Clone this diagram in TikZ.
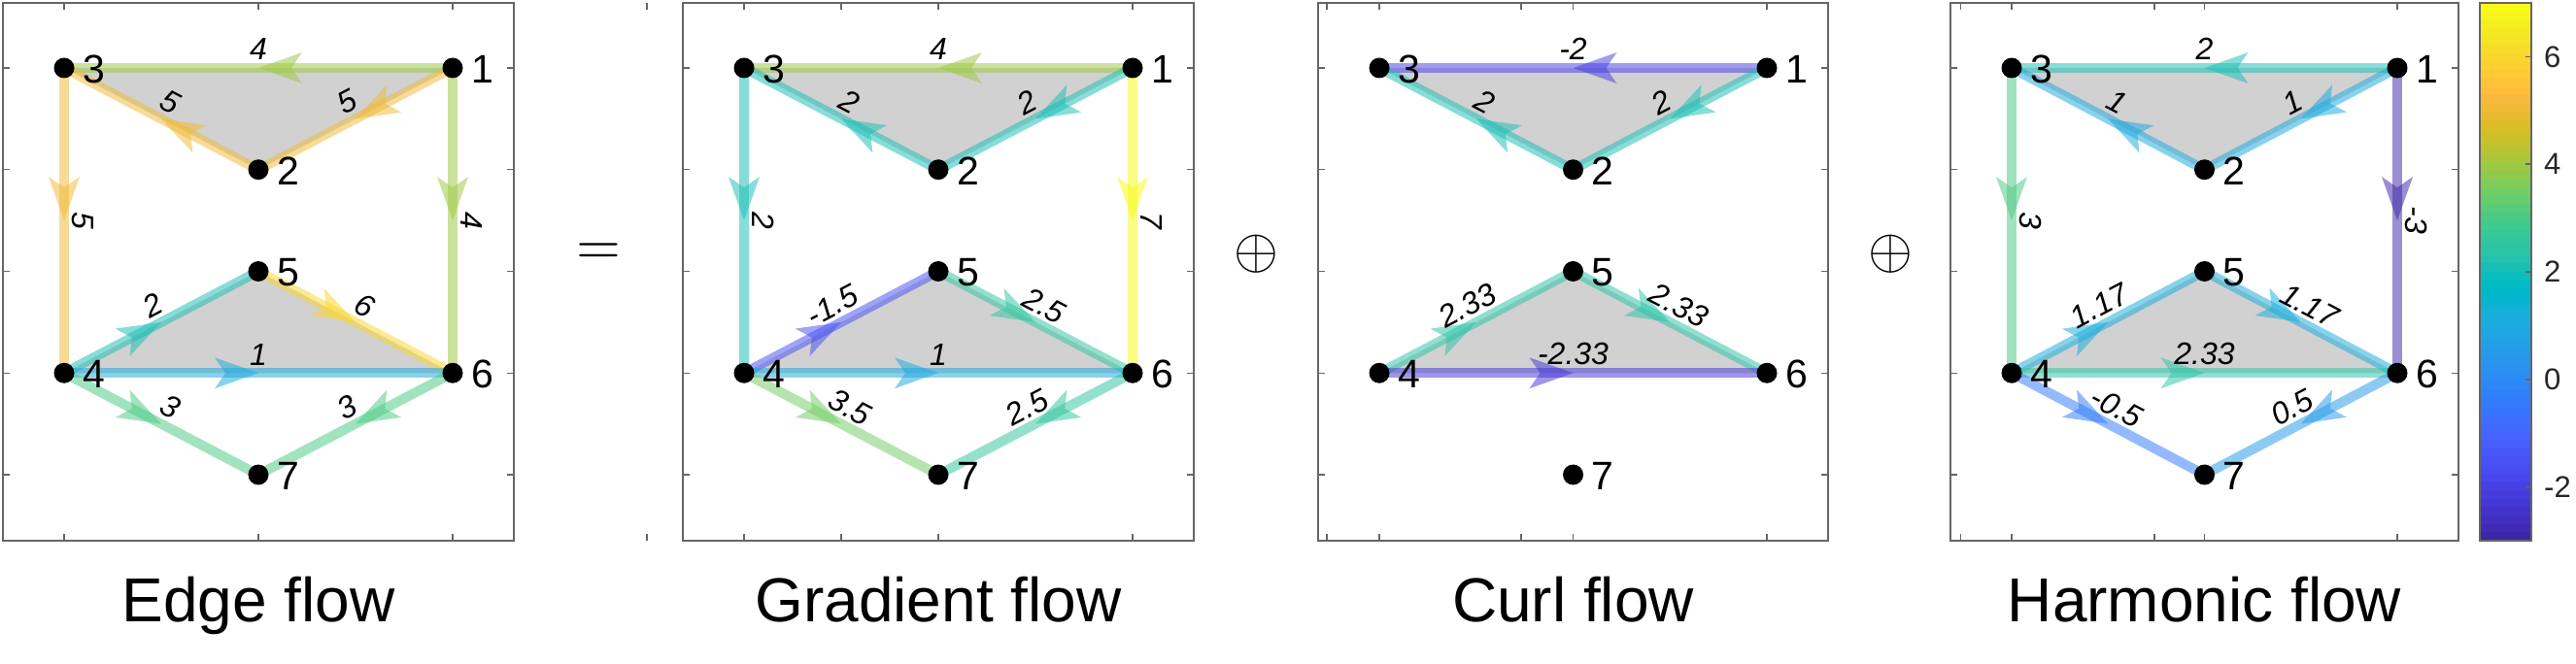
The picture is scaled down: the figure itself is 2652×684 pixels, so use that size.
\documentclass[tikz,border=0pt]{standalone}
\usepackage{fontspec}
\setmainfont{Liberation Sans}
\usetikzlibrary{arrows.meta,decorations.markings}
\definecolor{vm3}{rgb}{0.2422,0.1504,0.6603}
\definecolor{vm233}{rgb}{0.2706,0.2147,0.8364}
\definecolor{vm2}{rgb}{0.2783,0.2559,0.8991}
\definecolor{vm15}{rgb}{0.2810,0.3228,0.9579}
\definecolor{vm05}{rgb}{0.1963,0.4847,0.9892}
\definecolor{v05}{rgb}{0.1460,0.6091,0.9079}
\definecolor{v1}{rgb}{0.1113,0.6635,0.8763}
\definecolor{v117}{rgb}{0.0952,0.6798,0.8598}
\definecolor{v2}{rgb}{0.0964,0.7500,0.7120}
\definecolor{v233}{rgb}{0.1717,0.7670,0.6554}
\definecolor{v25}{rgb}{0.1938,0.7758,0.6251}
\definecolor{v3}{rgb}{0.2906,0.7973,0.5188}
\definecolor{v35}{rgb}{0.4456,0.8024,0.3909}
\definecolor{v4}{rgb}{0.6174,0.7876,0.2612}
\definecolor{v5}{rgb}{0.9393,0.7288,0.2100}
\definecolor{v6}{rgb}{0.9786,0.8386,0.1766}
\definecolor{v7}{rgb}{0.9769,0.9839,0.0805}
\definecolor{tri}{gray}{0.82}
\definecolor{axc}{gray}{0.4}
\tikzset{
  frame/.style={draw=axc, line width=1.5pt},
  flow/.style={draw=#1, line width=10pt, opacity=0.52, postaction={decorate},
    decoration={markings, mark=at position 0.5 with {\arrow{Stealth[length=45pt,width=32pt,inset=11pt,line width=0pt]}}}},
  elab/.style={sloped, anchor=south, inner sep=8pt, font=\fontsize{32}{32}\selectfont\itshape},
  dot/.style={circle, fill=black, minimum size=21pt, inner sep=0pt},
  nlab/.style={font=\fontsize{41}{41}\selectfont, inner sep=0pt, anchor=west},
  ttl/.style={font=\fontsize{64}{64}\selectfont, anchor=base},
  cblab/.style={font=\fontsize{31}{31}\selectfont, text=black!85, anchor=west, inner sep=0pt},
  opsym/.style={inner sep=0pt}
}
\newcommand\flowedge[4]{\draw[flow=#3] (#1) -- (#2); \path (#1) -- node[elab]{#4} (#2);}
\begin{document}
\begin{tikzpicture}[x=1pt,y=-1pt]
\fill[white] (0,0) rectangle (2652,684);
\useasboundingbox (0,0) rectangle (2652,684);
\foreach \p/\xl/\s in {a/66/200,b/766/200,c/1420/199.5,d/2071/198.5}{
  \pgfmathsetmacro\xm{\xl+\s}
  \pgfmathsetmacro\xr{\xl+2*\s}
  \coordinate (\p1) at (\xr,70);
  \coordinate (\p2) at (\xm,174.75);
  \coordinate (\p3) at (\xl,70);
  \coordinate (\p4) at (\xl,384.25);
  \coordinate (\p5) at (\xm,279.5);
  \coordinate (\p6) at (\xr,384.25);
  \coordinate (\p7) at (\xm,489);
  \draw[frame] (\xl-63,3) rectangle (\xr+63,557);
  \foreach \k in {0,...,4}{
    \draw[frame] ({\xl+\k*\s},3) -- ++(0,7);
    \draw[frame] ({\xl+\k*\s},557) -- ++(0,-7);
  }
  \foreach \yy in {70,174.75,279.5,384.25,489}{
    \draw[frame] (\xl-63,\yy) -- ++(7,0);
    \draw[frame] (\xr+63,\yy) -- ++(-7,0);
  }
  \fill[tri] (\p1) -- (\p2) -- (\p3) -- cycle;
  \fill[tri] (\p4) -- (\p5) -- (\p6) -- cycle;
}
% Edge flow
\flowedge{a1}{a3}{v4}{4}
\flowedge{a1}{a2}{v5}{5}
\flowedge{a2}{a3}{v5}{5}
\flowedge{a3}{a4}{v5}{5}
\flowedge{a1}{a6}{v4}{4}
\flowedge{a4}{a5}{v2}{2}
\flowedge{a5}{a6}{v6}{6}
\flowedge{a4}{a6}{v1}{1}
\flowedge{a4}{a7}{v3}{3}
\flowedge{a6}{a7}{v3}{3}
% Gradient flow
\flowedge{b1}{b3}{v4}{4}
\flowedge{b1}{b2}{v2}{2}
\flowedge{b2}{b3}{v2}{2}
\flowedge{b3}{b4}{v2}{2}
\flowedge{b1}{b6}{v7}{7}
\flowedge{b4}{b5}{vm15}{-1.5}
\flowedge{b5}{b6}{v25}{2.5}
\flowedge{b4}{b6}{v1}{1}
\flowedge{b4}{b7}{v35}{3.5}
\flowedge{b6}{b7}{v25}{2.5}
% Curl flow
\flowedge{c1}{c3}{vm2}{-2}
\flowedge{c1}{c2}{v2}{2}
\flowedge{c2}{c3}{v2}{2}
\flowedge{c4}{c5}{v233}{2.33}
\flowedge{c5}{c6}{v233}{2.33}
\flowedge{c4}{c6}{vm233}{-2.33}
% Harmonic flow
\flowedge{d1}{d3}{v2}{2}
\flowedge{d1}{d2}{v1}{1}
\flowedge{d2}{d3}{v1}{1}
\flowedge{d3}{d4}{v3}{3}
\flowedge{d1}{d6}{vm3}{-3}
\flowedge{d4}{d5}{v117}{1.17}
\flowedge{d5}{d6}{v117}{1.17}
\flowedge{d4}{d6}{v233}{2.33}
\flowedge{d4}{d7}{vm05}{-0.5}
\flowedge{d6}{d7}{v05}{0.5}
% vertices
\foreach \p in {a,b,c,d}{
  \foreach \n in {1,...,7}{
    \node[dot] (\p\n d) at (\p\n) {};
    \node[nlab] (\p\n t) at ([xshift=19pt,yshift=-1.5pt]\p\n) {\n};
  }
}
% titles
\node[ttl] (t1) at (266,640) {Edge flow};
\node[ttl] (t2) at (966,640) {Gradient flow};
\node[ttl] (t3) at (1619.5,640) {Curl flow};
\node[ttl] (t4) at (2269.5,640) {Harmonic flow};
% operators
\node[opsym] (eq) at (616,262) {\scalebox{5.9}{$=$}};
\node[opsym] (op1) at (1293,262) {\scalebox{5.9}{$\oplus$}};
\node[opsym] (op2) at (1946,262) {\scalebox{5.9}{$\oplus$}};
% colorbar
\foreach \r/\g/\b [count=\i from 0] in {
0.2422/0.1504/0.6603, 0.2504/0.1650/0.7076, 0.2578/0.1818/0.7511, 0.2647/0.1978/0.7952,
0.2706/0.2147/0.8364, 0.2751/0.2342/0.8710, 0.2783/0.2559/0.8991, 0.2803/0.2782/0.9221,
0.2813/0.3006/0.9414, 0.2810/0.3228/0.9579, 0.2795/0.3447/0.9717, 0.2760/0.3667/0.9829,
0.2699/0.3892/0.9906, 0.2602/0.4123/0.9952, 0.2440/0.4358/0.9988, 0.2206/0.4603/0.9973,
0.1963/0.4847/0.9892, 0.1834/0.5074/0.9798, 0.1786/0.5289/0.9682, 0.1764/0.5499/0.9520,
0.1687/0.5703/0.9359, 0.1540/0.5902/0.9218, 0.1460/0.6091/0.9079, 0.1380/0.6276/0.8973,
0.1248/0.6459/0.8883, 0.1113/0.6635/0.8763, 0.0952/0.6798/0.8598, 0.0689/0.6948/0.8394,
0.0297/0.7082/0.8163, 0.0036/0.7203/0.7917, 0.0067/0.7312/0.7660, 0.0433/0.7411/0.7394,
0.0964/0.7500/0.7120, 0.1408/0.7584/0.6842, 0.1717/0.7670/0.6554, 0.1938/0.7758/0.6251,
0.2161/0.7843/0.5923, 0.2470/0.7918/0.5567, 0.2906/0.7973/0.5188, 0.3406/0.8008/0.4789,
0.3909/0.8029/0.4354, 0.4456/0.8024/0.3909, 0.5044/0.7993/0.3480, 0.5616/0.7942/0.3045,
0.6174/0.7876/0.2612, 0.6720/0.7793/0.2227, 0.7242/0.7698/0.1910, 0.7738/0.7598/0.1646,
0.8203/0.7498/0.1535, 0.8634/0.7406/0.1596, 0.9035/0.7330/0.1774, 0.9393/0.7288/0.2100,
0.9728/0.7298/0.2394, 0.9956/0.7434/0.2371, 0.9970/0.7659/0.2199, 0.9952/0.7893/0.2028,
0.9892/0.8136/0.1885, 0.9786/0.8386/0.1766, 0.9676/0.8639/0.1643, 0.9610/0.8890/0.1537,
0.9597/0.9135/0.1423, 0.9628/0.9373/0.1265, 0.9691/0.9606/0.1064, 0.9769/0.9839/0.0805}{
  \definecolor{cbtmp}{rgb}{\r,\g,\b}
  \fill[cbtmp] (2553,{557-(\i+1)*8.65625-0.5}) rectangle (2606,{557-\i*8.65625});
}
\draw[frame] (2553,3) rectangle (2606,557);
\foreach \v in {-2,0,2,4,6}{
  \draw[frame] (2606,{390.8-55.4*\v}) -- ++(-6,0);
  \node[cblab] (cb\v) at (2619,{390.8-55.4*\v}) {\v};
}
\end{tikzpicture}
\end{document}
